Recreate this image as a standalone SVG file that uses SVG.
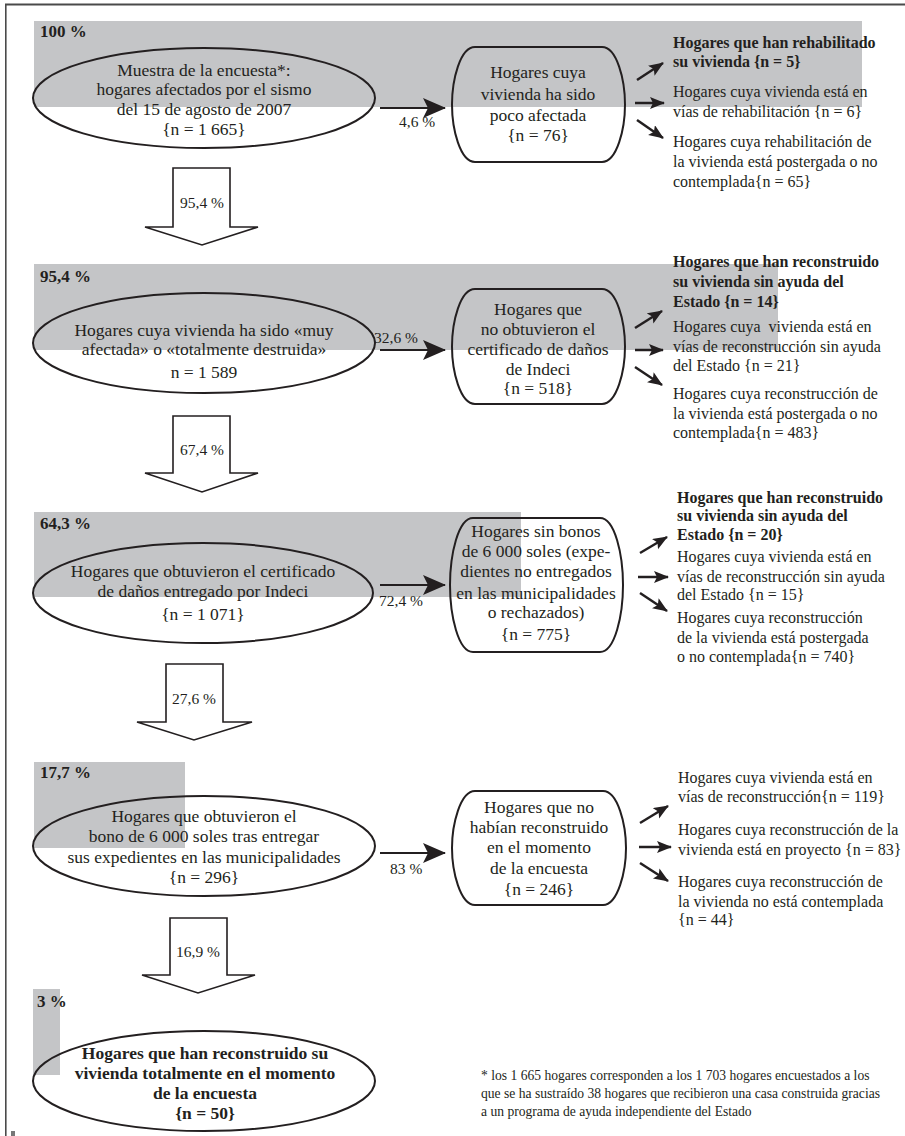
<svg xmlns="http://www.w3.org/2000/svg" width="905" height="1136" viewBox="0 0 905 1136">
<style>
text{font-family:"Liberation Serif","Times New Roman",serif;fill:#231f20}
.n{font-size:17.5px;text-anchor:middle}
.nb{font-size:17.5px;text-anchor:middle;font-weight:bold}
.h{font-size:17px;font-weight:bold}
.r{font-size:16px}
.rb{font-size:16px;font-weight:bold}
.p{font-size:15.5px}
.pc{font-size:15.5px;text-anchor:middle}
.f{font-size:13.6px}
.band{fill:#c4c5c7}
.shape{fill:none;stroke:#231f20;stroke-width:2}
.big{stroke:#231f20;stroke-width:2.2;fill:none;marker-end:url(#bigHead)}
.sm{stroke:#231f20;stroke-width:2.5;fill:none;marker-end:url(#smHead)}
.down{fill:#fff;stroke:#231f20;stroke-width:1.6;stroke-linejoin:miter}
</style>
<defs>
<marker id="bigHead" markerUnits="userSpaceOnUse" markerWidth="24" markerHeight="22" refX="22" refY="10" orient="auto" viewBox="0 0 24 22">
<path d="M0,0 L23,10 L0,20 L5,10 Z" fill="#231f20"/>
</marker>
<marker id="smHead" markerUnits="userSpaceOnUse" markerWidth="16" markerHeight="14" refX="14" refY="6" orient="auto" viewBox="0 0 16 14">
<path d="M0,0 L15,6 L0,12 L3,6 Z" fill="#231f20"/>
</marker>
</defs>
<rect width="905" height="1136" fill="#fff"/>
<g id="frame">
<line x1="5" y1="4.5" x2="905" y2="4.5" stroke="#4a4a4a" stroke-width="2"/>
<line x1="5.8" y1="4" x2="5.8" y2="1136" stroke="#4a4a4a" stroke-width="1.6"/>
<rect x="11" y="1131" width="4" height="5" fill="#777"/>
</g>
<g id="bands">
<rect class="band" x="34" y="21" width="828" height="86"/>
<rect class="band" x="34" y="264" width="744" height="86"/>
<rect class="band" x="34" y="512" width="487" height="85"/>
<rect class="band" x="34" y="762" width="151" height="86"/>
<rect class="band" x="33" y="989" width="27" height="86"/>
</g>
<g id="headers">
<text class="h" x="40" y="37">100 %</text>
<text class="h" x="40" y="282">95,4 %</text>
<text class="h" x="40" y="529">64,3 %</text>
<text class="h" x="40" y="778">17,7 %</text>
<text class="h" x="37" y="1007">3 %</text>
</g>
<g id="n1">
<ellipse class="shape" cx="204" cy="98" rx="171" ry="50"/>
<text class="n" x="204" y="76">Muestra de la encuesta*:</text>
<text class="n" x="204" y="95">hogares afectados por el sismo</text>
<text class="n" x="204" y="115">del 15 de agosto de 2007</text>
<text class="n" x="204" y="135">{n = 1 665}</text>
</g>
<g id="n2">
<path class="shape" d="M475,47 H602 C617,47 625,80 625,104.5 C625,129 617,162 602,162 H475 C460,162 452,129 452,104.5 C452,80 460,47 475,47 Z"/>
<text class="n" x="538" y="78">Hogares cuya</text>
<text class="n" x="538" y="100">vivienda ha sido</text>
<text class="n" x="538" y="121">poco afectada</text>
<text class="n" x="538" y="141">{n = 76}</text>
</g>
<g id="n3">
<text class="rb" x="673" y="48">Hogares que han rehabilitado</text>
<text class="rb" x="673" y="67">su vivienda {n = 5}</text>
<text class="r" x="673" y="97">Hogares cuya vivienda está en</text>
<text class="r" x="673" y="117">vías de rehabilitación {n = 6}</text>
<text class="r" x="673" y="147">Hogares cuya rehabilitación de</text>
<text class="r" x="673" y="167">la vivienda está postergada o no</text>
<text class="r" x="673" y="187">contemplada{n = 65}</text>
</g>
<g id="n4">
<ellipse class="shape" cx="204" cy="343" rx="171" ry="50"/>
<text class="n" x="204" y="336">Hogares cuya vivienda ha sido «muy</text>
<text class="n" x="204" y="355">afectada» o «totalmente destruida»</text>
<text class="n" x="204" y="378">n = 1 589</text>
</g>
<g id="n5">
<path class="shape" d="M475,289 H602 C617,289 625,322 625,346.5 C625,371 617,404 602,404 H475 C460,404 452,371 452,346.5 C452,322 460,289 475,289 Z"/>
<text class="n" x="538" y="315">Hogares que</text>
<text class="n" x="538" y="335">no obtuvieron el</text>
<text class="n" x="538" y="355">certificado de daños</text>
<text class="n" x="538" y="375">de Indeci</text>
<text class="n" x="538" y="394">{n = 518}</text>
</g>
<g id="n6">
<text class="rb" x="673" y="267">Hogares que han reconstruido</text>
<text class="rb" x="673" y="287">su vivienda sin ayuda del</text>
<text class="rb" x="673" y="307">Estado {n = 14}</text>
<text class="r" x="673" y="332" xml:space="preserve">Hogares cuya  vivienda está en</text>
<text class="r" x="673" y="352">vías de reconstrucción sin ayuda</text>
<text class="r" x="673" y="371">del Estado {n = 21}</text>
<text class="r" x="673" y="399">Hogares cuya reconstrucción de</text>
<text class="r" x="673" y="419">la vivienda está postergada o no</text>
<text class="r" x="673" y="438">contemplada{n = 483}</text>
</g>
<g id="n7">
<ellipse class="shape" cx="203" cy="593" rx="170" ry="50"/>
<text class="n" x="203" y="577">Hogares que obtuvieron el certificado</text>
<text class="n" x="203" y="597">de daños entregado por Indeci</text>
<text class="n" x="203" y="620">{n = 1 071}</text>
</g>
<g id="n8">
<path class="shape" d="M473,518 H600 C615,518 623,555 623,585 C623,615 615,652 600,652 H473 C458,652 450,615 450,585 C450,555 458,518 473,518 Z"/>
<text class="n" x="536" y="537">Hogares sin bonos</text>
<text class="n" x="536" y="557">de 6 000 soles (expe-</text>
<text class="n" x="536" y="577">dientes no entregados</text>
<text class="n" x="536" y="599">en las municipalidades</text>
<text class="n" x="536" y="618">o rechazados)</text>
<text class="n" x="536" y="640">{n = 775}</text>
</g>
<g id="n9">
<text class="rb" x="677" y="503">Hogares que han reconstruido</text>
<text class="rb" x="677" y="521">su vivienda sin ayuda del</text>
<text class="rb" x="677" y="540">Estado {n = 20}</text>
<text class="r" x="677" y="562">Hogares cuya vivienda está en</text>
<text class="r" x="677" y="582">vías de reconstrucción sin ayuda</text>
<text class="r" x="677" y="600">del Estado {n = 15}</text>
<text class="r" x="677" y="623">Hogares cuya reconstrucción</text>
<text class="r" x="677" y="643">de la vivienda está postergada</text>
<text class="r" x="677" y="662">o no contemplada{n = 740}</text>
</g>
<g id="n10">
<ellipse class="shape" cx="204" cy="846" rx="171" ry="50"/>
<text class="n" x="204" y="822">Hogares que obtuvieron el</text>
<text class="n" x="204" y="842">bono de 6 000 soles tras entregar</text>
<text class="n" x="204" y="863">sus expedientes en las municipalidades</text>
<text class="n" x="204" y="883">{n = 296}</text>
</g>
<g id="n11">
<path class="shape" d="M475,791 H603 C618,791 626,825 626,848 C626,871 618,905 603,905 H475 C460,905 452,871 452,848 C452,825 460,791 475,791 Z"/>
<text class="n" x="539" y="813">Hogares que no</text>
<text class="n" x="539" y="833">habían reconstruido</text>
<text class="n" x="539" y="853">en el momento</text>
<text class="n" x="539" y="874">de la encuesta</text>
<text class="n" x="539" y="895">{n = 246}</text>
</g>
<g id="n12">
<text class="r" x="678" y="783">Hogares cuya vivienda está en</text>
<text class="r" x="678" y="802">vías de reconstrucción{n = 119}</text>
<text class="r" x="678" y="835">Hogares cuya reconstrucción de la</text>
<text class="r" x="678" y="855">vivienda está en proyecto {n = 83}</text>
<text class="r" x="678" y="887">Hogares cuya reconstrucción de</text>
<text class="r" x="678" y="907">la vivienda no está contemplada</text>
<text class="r" x="678" y="925">{n = 44}</text>
</g>
<g id="n13">
<ellipse class="shape" cx="204" cy="1081" rx="171" ry="50"/>
<text class="nb" x="205" y="1059">Hogares que han reconstruido su</text>
<text class="nb" x="205" y="1079">vivienda totalmente en el momento</text>
<text class="nb" x="205" y="1099">de la encuesta</text>
<text class="nb" x="205" y="1119">{n = 50}</text>
</g>
<g id="footnote">
<text class="f" x="481" y="1080">* los 1 665 hogares corresponden a los 1 703 hogares encuestados a los</text>
<text class="f" x="481" y="1098">que se ha sustraído 38 hogares que recibieron una casa construida gracias</text>
<text class="f" x="481" y="1116">a un programa de ayuda independiente del Estado</text>
</g>
<g id="connectors">
<line class="big" x1="380" y1="108" x2="445" y2="108"/>
<text class="p" x="399" y="127">4,6 %</text>
<line class="sm" x1="637" y1="80" x2="663" y2="63"/>
<line class="sm" x1="635" y1="103" x2="664" y2="103"/>
<line class="sm" x1="637" y1="120" x2="663" y2="138"/>
<path class="down" d="M173,168 H230 V227 H258 L202,245 L145,227 H173 Z"/>
<text class="pc" x="202" y="208">95,4 %</text>

<line class="big" x1="380" y1="350" x2="445" y2="350"/>
<text class="p" x="374" y="343">32,6 %</text>
<line class="sm" x1="635" y1="328" x2="662" y2="311"/>
<line class="sm" x1="635" y1="350" x2="663" y2="350"/>
<line class="sm" x1="635" y1="367" x2="662" y2="385"/>
<path class="down" d="M173,416 H230 V473 H258 L202,492 L145,473 H173 Z"/>
<text class="pc" x="202" y="455">67,4 %</text>

<line class="big" x1="380" y1="585" x2="445" y2="585"/>
<text class="p" x="379" y="606">72,4 %</text>
<line class="sm" x1="640" y1="553" x2="667" y2="537"/>
<line class="sm" x1="638" y1="577" x2="668" y2="577"/>
<line class="sm" x1="640" y1="593" x2="667" y2="611"/>
<path class="down" d="M166,664 H223 V722 H252 L194,740 L137,722 H166 Z"/>
<text class="pc" x="194" y="704">27,6 %</text>

<line class="big" x1="380" y1="853" x2="445" y2="853"/>
<text class="p" x="390" y="874">83 %</text>
<line class="sm" x1="640" y1="823" x2="668" y2="806"/>
<line class="sm" x1="639" y1="847" x2="671" y2="847"/>
<line class="sm" x1="640" y1="863" x2="668" y2="881"/>
<path class="down" d="M170,918 H227 V975 H255 L198,993 L142,975 H170 Z"/>
<text class="pc" x="198" y="957">16,9 %</text>
</g>
</svg>
